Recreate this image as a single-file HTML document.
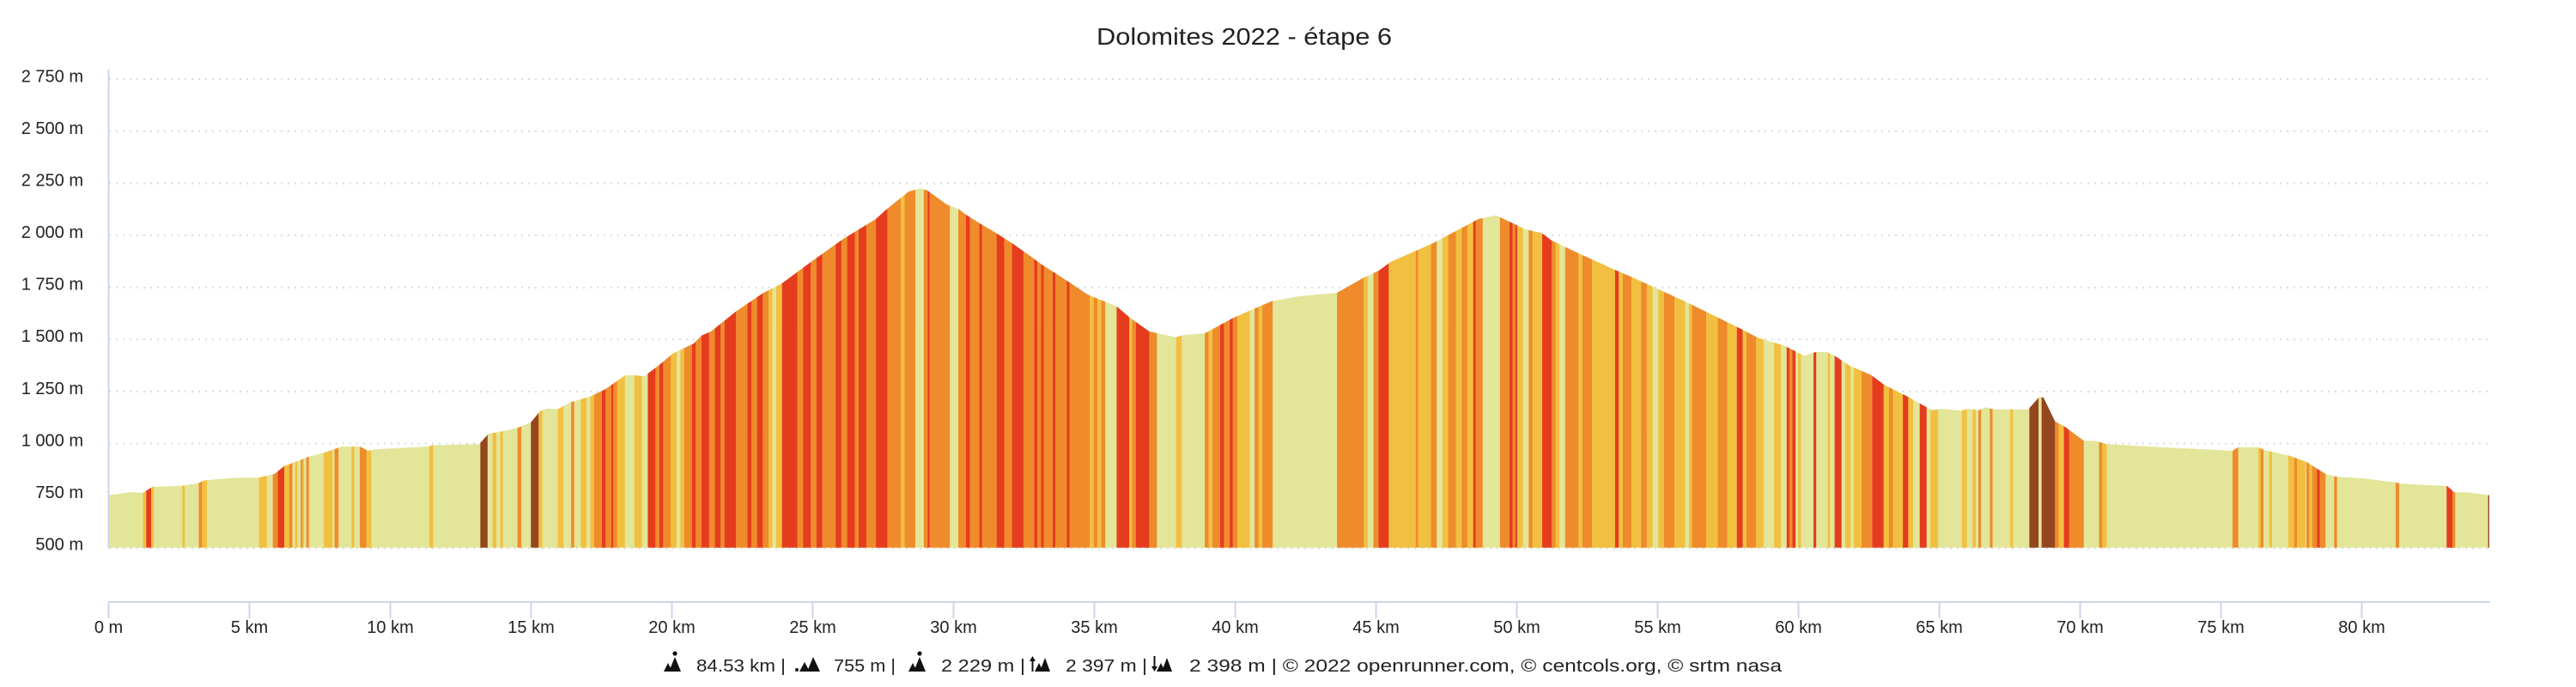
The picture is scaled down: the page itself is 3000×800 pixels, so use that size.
<!DOCTYPE html>
<html><head><meta charset="utf-8"><style>
html,body{margin:0;padding:0;background:#fff;}
svg{display:block;font-family:"Liberation Sans",Arial,sans-serif;}
.lab{font-size:20px;fill:#222;}
</style></head><body>
<svg width="3000" height="800" viewBox="0 0 3000 800" xmlns="http://www.w3.org/2000/svg">
<rect x="0" y="0" width="3000" height="800" fill="#fff"/>
<text x="1277" y="52" font-size="28" fill="#222" textLength="344" lengthAdjust="spacingAndGlyphs">Dolomites 2022 - étape 6</text>

<!-- gridlines -->
<g stroke="#d6dbe4" stroke-width="2" stroke-dasharray="2 6">
<line x1="127" x2="2900" y1="92.3" y2="92.3"/>
<line x1="127" x2="2900" y1="152.9" y2="152.9"/>
<line x1="127" x2="2900" y1="213.5" y2="213.5"/>
<line x1="127" x2="2900" y1="274.1" y2="274.1"/>
<line x1="127" x2="2900" y1="334.7" y2="334.7"/>
<line x1="127" x2="2900" y1="395.3" y2="395.3"/>
<line x1="127" x2="2900" y1="455.9" y2="455.9"/>
<line x1="127" x2="2900" y1="516.5" y2="516.5"/>
<line x1="127" x2="2900" y1="577.1" y2="577.1"/>
<line x1="127" x2="2900" y1="638.5" y2="638.5"/>
</g>

<defs>
<clipPath id="prof">
<polygon points="126,576.7 153,573 166,574 178,566.7 212,565.7 230,562.7 239,559.3 268,556.7 302,556 320,551.7 331,542.7 360,531.7 379,526.7 398,520 419,520 429,525 436,523.3 497.5,520 505,518.3 558,517.3 569,505 582.6,502.7 602.7,498.3 618.3,491.7 629.5,478.3 638.4,475.7 649.5,476.7 654,474 665,468.3 687.5,461.7 705,453.3 727.7,437.3 736.6,436.7 750,438.3 767.8,425 783.5,411.7 808,400 817,390.7 828,386 857,362.7 888,341.7 910.7,330 942,306.7 982,278.3 1020,255 1031,245 1058,223.3 1071.4,219.3 1080,221.7 1102.6,238.3 1116,243.3 1125,250 1138,258.3 1160.7,271.7 1178.6,283.3 1200,298.3 1213.4,308.3 1226.8,316.7 1244.6,328.3 1267,343.3 1300.4,356.7 1316,370 1338.4,386 1369.6,392.7 1378.6,390 1403,388.3 1436.6,370 1463.4,358.3 1481,350.7 1512.5,345 1557,341 1588.4,323.3 1606,315 1619.6,305 1668.7,283.3 1722,255 1742.4,250.7 1758,258.3 1776,266.7 1796,271.7 1807,280 1838.4,295 1878.6,313.3 1900,322.5 1967,353.3 2025,381.7 2047.3,393.3 2078.6,402.7 2101,414.3 2114.3,410 2127.7,410 2136.6,414.3 2154.4,426 2179,436.7 2194.6,448.3 2221.4,461.7 2239.3,471.7 2250.4,477.7 2261.6,476 2284,478.3 2292.8,476 2304,477.7 2313,474.3 2321.9,476.7 2362,476.7 2375.4,461.7 2380,463.3 2393.3,490.7 2404.4,496.7 2426.8,513.3 2440,513.3 2453.6,517.3 2502.7,520 2547.3,522.3 2600,525 2606.7,520.7 2630,520.7 2636.7,524 2666.7,530.7 2686.7,538.3 2700,546.7 2708.3,551.7 2720,555 2753.3,557.3 2790,561.7 2795,563.3 2850,566 2858.3,573.3 2873.3,573.3 2899,576.7 2899,637.7 126,637.7"/>
</clipPath>
</defs>

<g clip-path="url(#prof)">
<rect x="126" y="200" width="2774" height="440" fill="#e3e599"/>
<!-- segment A: 0-500 -->
<g transform="scale(0.3827,1)">
<path fill="#f2c040" d="M435 100h10v540h-10z M460 100h8v540h-8z M555 100h7v540h-7z M615 100h15v540h-15z M788 100h24v540h-24z M865 100h15v540h-15z M898 100h7v540h-7z M920 100h5v540h-5z M985 100h27v540h-27z M1070 100h8v540h-8z M1115 100h15v540h-15z M1308 100h10v540h-10z"/>
<path fill="#e63c1e" d="M445 100h15v540h-15z M845 100h20v540h-20z"/>
<path fill="#ef8b2b" d="M605 100h10v540h-10z M830 100h15v540h-15z M880 100h10v540h-10z M915 100h5v540h-5z M932 100h8v540h-8z M1018 100h12v540h-12z M1095 100h20v540h-20z"/>
</g>
<!-- segment B: 500-1200 -->
<g transform="translate(500,0) scale(0.4464,1)">
<path fill="#f2c040" d="M0 100h8v540h-8z M165 100h10v540h-10z M185 100h7v540h-7z M285 100h10v540h-10z M335 100h15v540h-15z M395 100h15v540h-15z M420 100h10v540h-10z M490 100h20v540h-20z M535 100h20v540h-20z M630 100h15v540h-15z M655 100h10v540h-10z M885 100h10v540h-10z M905 100h15v540h-15z M1230 100h10v540h-10z"/>
<path fill="#94461f" d="M133 100h19v540h-19z M265 100h20v540h-20z"/>
<path fill="#ef8b2b" d="M230 100h10v540h-10z M370 100h8v540h-8z M430 100h20v540h-20z M460 100h15v540h-15z M480 100h10v540h-10z M590 100h10v540h-10z M610 100h20v540h-20z M665 100h20v540h-20z M695 100h15v540h-15z M730 100h15v540h-15z M760 100h10v540h-10z M800 100h30v540h-30z M840 100h15v540h-15z M870 100h15v540h-15z M960 100h15v540h-15z M995 100h15v540h-15z M1025 100h35v540h-35z M1075 100h15v540h-15z M1110 100h10v540h-10z M1140 100h25v540h-25z M1195 100h35v540h-35z M1240 100h28v540h-28z M1290 100h10v540h-10z M1305 100h53v540h-53z M1380 100h20v540h-20z M1410 100h25v540h-25z M1442 100h38v540h-38z M1500 100h20v540h-20z M1550 100h20v540h-20z"/>
<path fill="#e63c1e" d="M450 100h10v540h-10z M475 100h5v540h-5z M570 100h20v540h-20z M600 100h10v540h-10z M685 100h10v540h-10z M710 100h20v540h-20z M745 100h15v540h-15z M770 100h30v540h-30z M830 100h10v540h-10z M855 100h15v540h-15z M920 100h40v540h-40z M975 100h20v540h-20z M1010 100h15v540h-15z M1060 100h15v540h-15z M1090 100h20v540h-20z M1120 100h20v540h-20z M1165 100h30v540h-30z M1300 100h5v540h-5z M1400 100h10v540h-10z M1435 100h7v540h-7z M1480 100h20v540h-20z M1520 100h30v540h-30z"/>
</g>
<!-- segment C: 1200-1900 -->
<g transform="translate(1200,0) scale(0.4464,1)">
<path fill="#ef8b2b" d="M0 100h10v540h-10z M18 100h10v540h-10z M35 100h23v540h-23z M65 100h30v540h-30z M102 100h53v540h-53z M165 100h10v540h-10z M185 100h10v540h-10z M265 100h10v540h-10z M310 100h20v540h-20z M455 100h10v540h-10z M475 100h20v540h-20z M505 100h15v540h-15z M528 100h12v540h-12z M585 100h10v540h-10z M605 100h27v540h-27z M800 100h70v540h-70z M895 100h13v540h-13z M1005 100h7v540h-7z M1045 100h15v540h-15z M1090 100h20v540h-20z M1125 100h15v540h-15z M1162 100h18v540h-18z M1225 100h25v540h-25z M1258 100h7v540h-7z M1300 100h10v540h-10z M1360 100h10v540h-10z M1395 100h35v540h-35z M1440 100h25v540h-25z M1545 100h25v540h-25z"/>
<path fill="#e63c1e" d="M10 100h8v540h-8z M28 100h7v540h-7z M58 100h7v540h-7z M95 100h7v540h-7z M225 100h33v540h-33z M275 100h35v540h-35z M495 100h10v540h-10z M520 100h8v540h-8z M908 100h27v540h-27z M1155 100h7v540h-7z M1250 100h8v540h-8z M1265 100h5v540h-5z M1335 100h25v540h-25z M1525 100h10v540h-10z"/>
<path fill="#f2c040" d="M155 100h10v540h-10z M175 100h10v540h-10z M258 100h7v540h-7z M380 100h15v540h-15z M465 100h10v540h-10z M540 100h32v540h-32z M595 100h10v540h-10z M870 100h10v540h-10z M935 100h70v540h-70z M1012 100h33v540h-33z M1075 100h15v540h-15z M1110 100h15v540h-15z M1140 100h15v540h-15z M1270 100h15v540h-15z M1310 100h25v540h-25z M1370 100h10v540h-10z M1430 100h10v540h-10z M1465 100h60v540h-60z M1535 100h10v540h-10z"/>
</g>
<!-- segment D: 1900-2600 -->
<g transform="translate(1900,0) scale(0.4464,1)">
<path fill="#f2c040" d="M0 100h25v540h-25z M40 100h15v540h-15z M70 100h15v540h-15z M112 100h28v540h-28z M150 100h8v540h-8z M195 100h30v540h-30z M250 100h25v540h-25z M290 100h10v540h-10z M325 100h20v540h-20z M372 100h18v540h-18z M435 100h7v540h-7z M512 100h6v540h-6z M558 100h14v540h-14z M580 100h20v540h-20z M658 100h14v540h-14z M682 100h26v540h-26z M722 100h13v540h-13z M780 100h20v540h-20z M862 100h13v540h-13z M890 100h8v540h-8z M988 100h7v540h-7z M1115 100h13v540h-13z M1228 100h12v540h-12z"/>
<path fill="#ef8b2b" d="M25 100h15v540h-15z M85 100h27v540h-27z M158 100h37v540h-37z M225 100h25v540h-25z M300 100h25v540h-25z M412 100h8v540h-8z M600 100h28v540h-28z M672 100h10v540h-10z M905 100h7v540h-7z M935 100h7v540h-7z M1105 100h10v540h-10z M1142 100h38v540h-38z M1220 100h8v540h-8z"/>
<path fill="#e63c1e" d="M275 100h15v540h-15z M405 100h7v540h-7z M420 100h8v540h-8z M475 100h7v540h-7z M530 100h18v540h-18z M628 100h30v540h-30z M708 100h14v540h-14z M752 100h18v540h-18z M1128 100h14v540h-14z"/>
<path fill="#94461f" d="M1038 100h24v540h-24z M1070 100h35v540h-35z"/>
</g>
<!-- segment E: 2500-2900 -->
<g transform="translate(2500,0) scale(0.33333,1)">
<path fill="#ef8b2b" d="M300 100h20v540h-20z M398 100h10v540h-10z M515 100h10v540h-10z M558 100h10v540h-10z M578 100h17v540h-17z M605 100h20v540h-20z M655 100h10v540h-10z M870 100h12v540h-12z M1068 100h10v540h-10z"/>
<path fill="#f2c040" d="M390 100h8v540h-8z M428 100h10v540h-10z M495 100h20v540h-20z M525 100h30v540h-30z M568 100h10v540h-10z"/>
<path fill="#e63c1e" d="M595 100h10v540h-10z M1048 100h20v540h-20z"/>
<path fill="#94461f" d="M1193 100h7v540h-7z"/>
</g>
</g>

<!-- axes -->
<line x1="126.5" y1="81" x2="126.5" y2="638" stroke="#ccd6eb" stroke-width="2"/>
<line x1="126" y1="701" x2="2900" y2="701" stroke="#ccd6eb" stroke-width="2"/>
<g stroke="#ccd6eb" stroke-width="2">
<line x1="126.5" x2="126.5" y1="701" y2="720"/>
<line x1="290.5" x2="290.5" y1="701" y2="720"/>
<line x1="454.5" x2="454.5" y1="701" y2="720"/>
<line x1="618.5" x2="618.5" y1="701" y2="720"/>
<line x1="782.5" x2="782.5" y1="701" y2="720"/>
<line x1="946.5" x2="946.5" y1="701" y2="720"/>
<line x1="1110.5" x2="1110.5" y1="701" y2="720"/>
<line x1="1274.5" x2="1274.5" y1="701" y2="720"/>
<line x1="1438.5" x2="1438.5" y1="701" y2="720"/>
<line x1="1602.5" x2="1602.5" y1="701" y2="720"/>
<line x1="1766.5" x2="1766.5" y1="701" y2="720"/>
<line x1="1930.5" x2="1930.5" y1="701" y2="720"/>
<line x1="2094.5" x2="2094.5" y1="701" y2="720"/>
<line x1="2258.5" x2="2258.5" y1="701" y2="720"/>
<line x1="2422.5" x2="2422.5" y1="701" y2="720"/>
<line x1="2586.5" x2="2586.5" y1="701" y2="720"/>
<line x1="2750.5" x2="2750.5" y1="701" y2="720"/>
</g>

<!-- y labels -->
<g class="lab" text-anchor="end">
<text x="97" y="95.5">2 750 m</text>
<text x="97" y="156">2 500 m</text>
<text x="97" y="216.5">2 250 m</text>
<text x="97" y="277">2 000 m</text>
<text x="97" y="337.5">1 750 m</text>
<text x="97" y="398">1 500 m</text>
<text x="97" y="459">1 250 m</text>
<text x="97" y="519.5">1 000 m</text>
<text x="97" y="580">750 m</text>
<text x="97" y="640.5">500 m</text>
</g>

<!-- x labels -->
<g class="lab" text-anchor="middle">
<text x="126.5" y="737">0 m</text>
<text x="290.5" y="737">5 km</text>
<text x="454.5" y="737">10 km</text>
<text x="618.5" y="737">15 km</text>
<text x="782.5" y="737">20 km</text>
<text x="946.5" y="737">25 km</text>
<text x="1110.5" y="737">30 km</text>
<text x="1274.5" y="737">35 km</text>
<text x="1438.5" y="737">40 km</text>
<text x="1602.5" y="737">45 km</text>
<text x="1766.5" y="737">50 km</text>
<text x="1930.5" y="737">55 km</text>
<text x="2094.5" y="737">60 km</text>
<text x="2258.5" y="737">65 km</text>
<text x="2422.5" y="737">70 km</text>
<text x="2586.5" y="737">75 km</text>
<text x="2750.5" y="737">80 km</text>
</g>

<!-- footer icons -->
<g fill="#111">
<polygon points="773,782 778,772 783,782"/>
<polygon points="779,782 786,765 793,782"/>
<circle cx="786" cy="761" r="2.6"/>

<circle cx="928" cy="780" r="2"/>
<polygon points="931,782 937,771 943,782"/>
<polygon points="940,782 947,765 955,782"/>

<polygon points="1058,782 1063,772 1068,782"/>
<polygon points="1064,782 1071,765 1078,782"/>
<circle cx="1071" cy="761" r="2.6"/>

<rect x="1201.5" y="769" width="2" height="13"/>
<polygon points="1199,770 1202.5,764 1206,770"/>
<polygon points="1205,782 1210,772 1215,782"/>
<polygon points="1211,782 1217,766 1223,782"/>

<rect x="1343.5" y="764" width="2" height="13"/>
<polygon points="1341,776 1344.5,782 1348,776"/>
<polygon points="1347,782 1352,772 1357,782"/>
<polygon points="1353,782 1359,766 1365,782"/>
</g>
<g class="lab">
<text x="811" y="782" textLength="104" lengthAdjust="spacingAndGlyphs">84.53 km |</text>
<text x="971" y="782" textLength="72" lengthAdjust="spacingAndGlyphs">755 m |</text>
<text x="1096" y="782" textLength="98" lengthAdjust="spacingAndGlyphs">2 229 m |</text>
<text x="1241" y="782" textLength="95" lengthAdjust="spacingAndGlyphs">2 397 m |</text>
<text x="1385" y="782" textLength="690" lengthAdjust="spacingAndGlyphs">2 398 m | © 2022 openrunner.com, © centcols.org, © srtm nasa</text>
</g>
</svg>
</body></html>
